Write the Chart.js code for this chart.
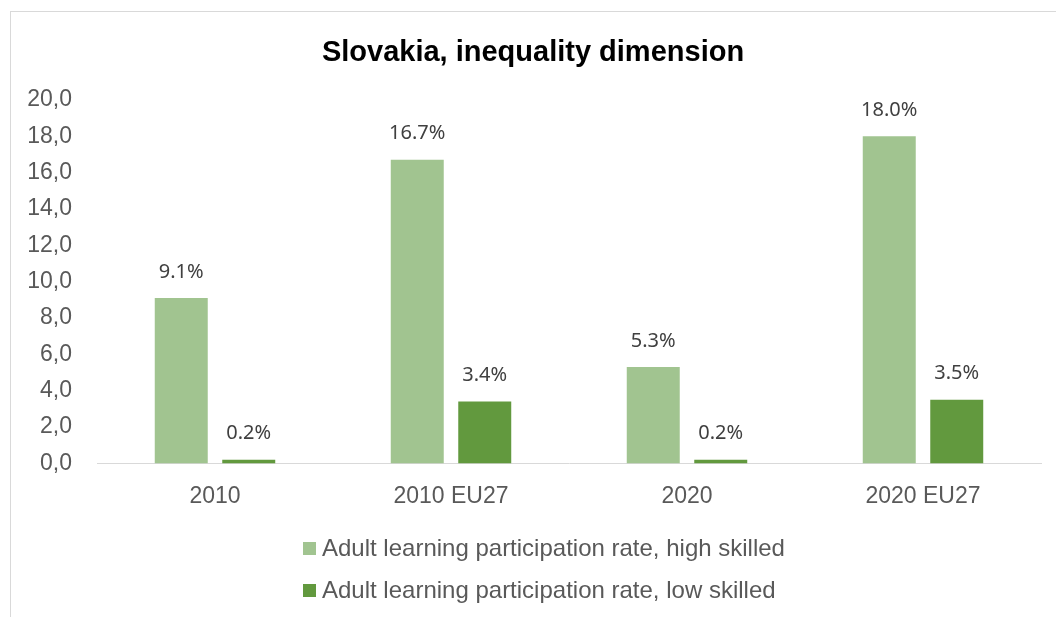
<!DOCTYPE html>
<html>
<head>
<meta charset="utf-8">
<script src="https://cdn.jsdelivr.net/npm/chart.js@4"></script>
<style>
  body { margin: 0; background: #fff; width: 1056px; height: 617px; overflow: hidden; position: relative; }
  #frame { position: absolute; left: 10px; top: 11px; width: 1058px; height: 620px; border: 1px solid #d9d9d9; box-sizing: border-box; }
  #wrap { position: absolute; left: 0; top: 0; width: 1058px; height: 606px; }
  #legend { position: absolute; left: 292px; top: 515px; font-family: "Liberation Sans", Arial, sans-serif; font-size: 24px; color: #595959; }
  #legend .item { display: flex; align-items: center; height: 42px; }
  #legend .box { width: 13px; height: 13px; margin-right: 6px; }
</style>
</head>
<body>
<div id="frame">
  <div id="wrap"><canvas id="chart"></canvas></div>
  <div id="legend"></div>
</div>
<script>
const categories = ["2010", "2010 EU27", "2020", "2020 EU27"];
const highSkilled = [9.1, 16.7, 5.3, 18.0];
const lowSkilled = [0.2, 3.4, 0.2, 3.5];
const seriesNames = ["Adult learning participation rate, high skilled", "Adult learning participation rate, low skilled"];
const colours = ["#a1c490", "#62993e"];

const fontFam = '"Liberation Sans", Arial, sans-serif';

// draw the value above each bar
const barLabels = {
    id: 'barLabels',
    afterDatasetsDraw(chart) {
        let ctx = chart.ctx;
        ctx.save();
        ctx.font = '20px "Noto Sans", "Open Sans", sans-serif';
        ctx.fillStyle = '#404040';
        ctx.textAlign = 'center';
        ctx.textBaseline = 'middle';
        chart.data.datasets.forEach((ds, i) => {
            let meta = chart.getDatasetMeta(i);
            meta.data.forEach((bar, j) => {
                ctx.fillText(ds.data[j].toFixed(1) + '%', bar.x, bar.y - 26);
            });
        });
        ctx.restore();
    }
};

// html legend, one line per series
const htmlLegend = {
    id: 'htmlLegend',
    afterUpdate(chart) {
        let box = document.getElementById('legend');
        box.innerHTML = '';
        chart.data.datasets.forEach(ds => {
            let row = document.createElement('div');
            row.className = 'item';
            let sw = document.createElement('span');
            sw.className = 'box';
            sw.style.background = ds.backgroundColor;
            let txt = document.createElement('span');
            txt.textContent = ds.label;
            row.appendChild(sw);
            row.appendChild(txt);
            box.appendChild(row);
        });
    }
};

let myChart = new Chart(document.getElementById('chart'), {
    type: 'bar',
    data: {
        labels: categories,
        datasets: [{
            label: seriesNames[0],
            data: highSkilled,
            backgroundColor: colours[0]
        }, {
            label: seriesNames[1],
            data: lowSkilled,
            backgroundColor: colours[1]
        }]
    },
    options: {
        responsive: true,
        maintainAspectRatio: false,
        animation: false,
        categoryPercentage: 0.572,
        barPercentage: 0.785,
        layout: {
            padding: { left: 14, right: 28, top: 0, bottom: 97 }
        },
        scales: {
            x: {
                grid: { display: false },
                border: { display: true, color: '#d9d9d9', width: 1 },
                ticks: { color: '#595959', font: { family: fontFam, size: 23 }, padding: 11 }
            },
            y: {
                min: 0,
                max: 20,
                grid: { display: false, drawTicks: false },
                border: { display: false },
                afterFit: scale => { scale.width = 72 },
                ticks: {
                    stepSize: 2,
                    color: '#595959',
                    font: { family: fontFam, size: 23 },
                    padding: 25,
                    callback: v => v.toFixed(1).replace('.', ',')
                }
            }
        },
        plugins: {
            legend: { display: false },
            tooltip: { enabled: false },
            title: {
                display: true,
                text: 'Slovakia, inequality dimension',
                color: '#000',
                font: { family: fontFam, size: 29, weight: 'bold' },
                padding: { top: 24, bottom: 29 }
            }
        }
    },
    plugins: [barLabels, htmlLegend]
});
</script>
</body>
</html>
